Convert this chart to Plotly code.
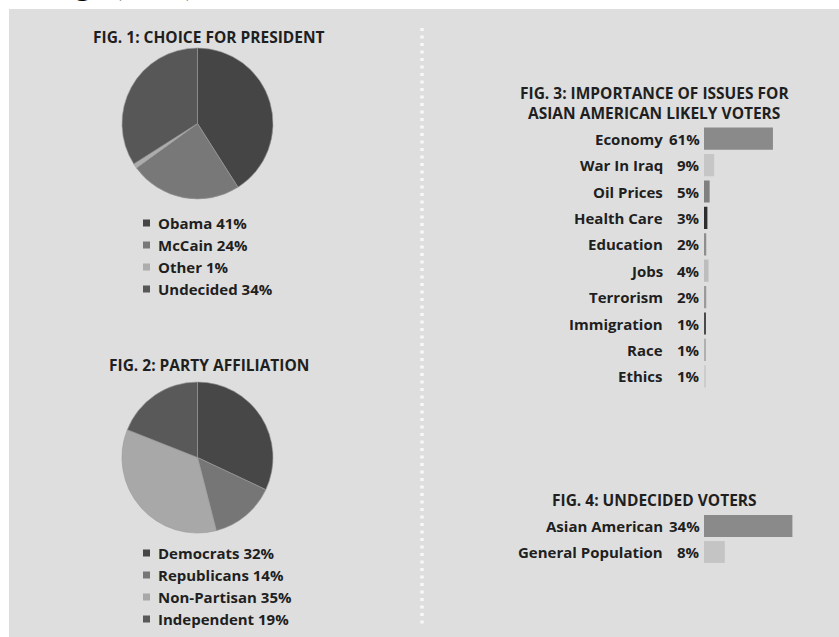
import plotly.graph_objects as go

W, H = 839, 637

# ---- data ----
pres_labels = ["Obama", "McCain", "Other", "Undecided"]
pres_values = [41, 24, 1, 34]
pres_colors = ["#454545", "#787878", "#adadad", "#575757"]

party_labels = ["Democrats", "Republicans", "Non-Partisan", "Independent"]
party_values = [32, 14, 35, 19]
party_colors = ["#474747", "#767676", "#a8a8a8", "#595959"]

issue_labels = ["Economy", "War In Iraq", "Oil Prices", "Health Care", "Education",
                "Jobs", "Terrorism", "Immigration", "Race", "Ethics"]
issue_values = [61, 9, 5, 3, 2, 4, 2, 1, 1, 1]
issue_colors = ["#8a8a8a", "#c6c6c6", "#808080", "#2e2e2e", "#8e8e8e",
                "#bdbdbd", "#9a9a9a", "#4a4a4a", "#b0b0b0", "#cccccc"]

undecided_labels = ["Asian American", "General Population"]
undecided_values = [34, 8]
undecided_colors = ["#8a8a8a", "#c4c4c4"]

titles = ["FIG. 1: CHOICE FOR PRESIDENT", "FIG. 2: PARTY AFFILIATION",
          "FIG. 3: IMPORTANCE OF ISSUES FOR", "ASIAN AMERICAN LIKELY VOTERS",
          "FIG. 4: UNDECIDED VOTERS"]


def px(x):
    return x / W


def py(y):
    return 1 - y / H


FONT = "Open Sans"
TXT = "#1f1f1f"
TS = 15.5   # title size
BS = 15     # body text size

fig = go.Figure()

fig.add_trace(go.Pie(
    values=pres_values, labels=pres_labels, sort=False, direction="clockwise",
    rotation=0, textinfo="none", showlegend=False,
    marker=dict(colors=pres_colors, line=dict(color="#9a9a9a", width=0.6)),
    domain=dict(x=[px(122), px(273)], y=[py(199), py(48)])))

fig.add_trace(go.Pie(
    values=party_values, labels=party_labels, sort=False, direction="clockwise",
    rotation=0, textinfo="none", showlegend=False,
    marker=dict(colors=party_colors, line=dict(color="#9a9a9a", width=0.6)),
    domain=dict(x=[px(122), px(273)], y=[py(533), py(382)])))

fig.add_trace(go.Bar(
    x=issue_values, y=issue_labels, orientation="h", xaxis="x", yaxis="y",
    marker=dict(color=issue_colors, line=dict(width=0)), showlegend=False))

fig.add_trace(go.Bar(
    x=undecided_values, y=undecided_labels, orientation="h", xaxis="x2", yaxis="y2",
    marker=dict(color=undecided_colors, line=dict(width=0)), showlegend=False))

shapes = [
    dict(type="rect", xref="paper", yref="paper", x0=px(9), x1=1.0, y0=0, y1=py(9),
         fillcolor="#dedede", line=dict(width=0), layer="below"),
    dict(type="line", xref="paper", yref="paper", x0=px(422), x1=px(422),
         y0=py(28), y1=py(626), line=dict(color="#f7f7f7", width=3.5, dash="3px,4.5px"),
         layer="below"),
]

annotations = []


def text(x, y, s, anchor="center", size=BS, yref="paper", weight=700):
    annotations.append(dict(
        x=x, y=y, xref="paper", yref=yref, text=s, showarrow=False,
        xanchor=anchor, yanchor="middle",
        font=dict(family=FONT, size=size, color=TXT, weight=weight)))


# titles
text(px(209), py(37), titles[0], size=TS)
text(px(209), py(365), titles[1], size=TS)
text(px(654), py(93), titles[2], size=TS)
text(px(654), py(113), titles[3], size=TS)
text(px(654), py(500), titles[4], size=TS)

# legends
for rows, labs, vals, cols in [
    ([223, 245, 267, 289], pres_labels, pres_values, pres_colors),
    ([553, 575, 597, 619], party_labels, party_values, party_colors),
]:
    for r, lab, val, col in zip(rows, labs, vals, cols):
        shapes.append(dict(type="rect", xref="paper", yref="paper",
                           x0=px(143), x1=px(150), y0=py(r + 3.5), y1=py(r - 3.5),
                           fillcolor=col, line=dict(width=0)))
        text(px(156), py(r), f"{lab} {val}%", anchor="left")

# bar labels
for lab, val in zip(issue_labels, issue_values):
    text(px(665), lab, lab, anchor="right", yref="y")
    text(px(702), lab, f"{val}%", anchor="right", yref="y")
for lab, val in zip(undecided_labels, undecided_values):
    text(px(665), lab, lab, anchor="right", yref="y2")
    text(px(702), lab, f"{val}%", anchor="right", yref="y2")

# heading of the page, cropped at the top edge as in the source picture
annotations.append(dict(
    x=px(-18), y=py(3), xref="paper", yref="paper", text="Findings (2008)",
    showarrow=False, xanchor="left", yanchor="bottom",
    font=dict(family="Liberation Serif", size=32, color="#000000", weight=700)))

fig.update_layout(
    width=W, height=H, margin=dict(l=0, r=0, t=0, b=0),
    paper_bgcolor="#ffffff", plot_bgcolor="rgba(0,0,0,0)",
    font=dict(family=FONT, color=TXT),
    bargap=0.16,
    xaxis=dict(domain=[px(704), px(817)], range=[0, 100], visible=False, fixedrange=True),
    yaxis=dict(domain=[py(389.5), py(125.5)], range=[9.5, -0.5], visible=False,
               categoryorder="array", categoryarray=issue_labels),
    xaxis2=dict(domain=[px(704), px(834)], range=[0, 50], visible=False, anchor="y2"),
    yaxis2=dict(domain=[py(565), py(513)], range=[1.5, -0.5], visible=False,
                anchor="x2", categoryorder="array", categoryarray=undecided_labels),
    shapes=shapes, annotations=annotations,
)

fig.write_html("out.html", config={"displayModeBar": False},
               post_script="document.body.style.margin='0';document.body.style.overflow='hidden';")
